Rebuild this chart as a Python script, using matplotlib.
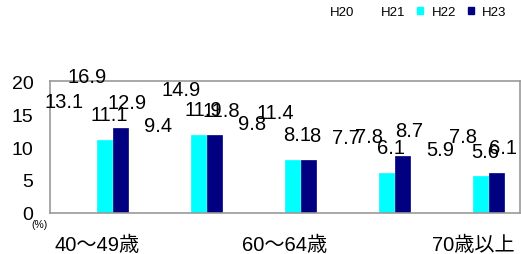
import matplotlib
matplotlib.use("Agg")
import matplotlib.pyplot as plt
import numpy as np
from matplotlib.patches import Patch

plt.rcParams['font.family'] = ['Liberation Sans', 'Noto Sans CJK JP', 'DejaVu Sans']

categories = ["40～49歳", "50～59歳", "60～64歳", "65～69歳", "70歳以上"]
series_names = ["H20", "H21", "H22", "H23"]
H20 = [13.1, 9.4, 9.8, 7.7, 5.9]
H21 = [16.9, 14.9, 11.4, 7.8, 7.8]
H22 = [11.1, 11.9, 8.1, 6.1, 5.6]
H23 = [12.9, 11.8, 8.0, 8.7, 6.1]
series = [H20, H21, H22, H23]
colors = ["white", "white", "#00FFFF", "#000080"]

fig = plt.figure(figsize=(5.21, 2.55), dpi=100)
ax = fig.add_axes([0.096, 0.161, 0.902, 0.517])

x = np.arange(len(categories))
w = 0.155
step = 0.165
label_dx = [-7, -1.5, 3, 5]
for i, (vals, c) in enumerate(zip(series, colors)):
    pos = x + (i - 1.5) * step
    ax.bar(pos, vals, width=w, color=c, edgecolor=c, linewidth=0.5, zorder=2)
    for px, v in zip(pos, vals):
        lbl = f"{v:g}"
        ax.annotate(lbl, (px, v), xytext=(label_dx[i], 18), textcoords='offset points',
                    ha='center', va='center', fontsize=14.5, color='black',
                    annotation_clip=False, zorder=3)

ax.set_xlim(-0.5, len(categories) - 0.5)
ax.set_ylim(0, 20)
ax.set_yticks([0, 5, 10, 15, 20])
ax.set_yticklabels(["0", "5", "10", "15", "20"], fontsize=14)
ax.set_xticks(x[::2])
ax.set_xticklabels(categories[::2], fontsize=14.5)
ax.tick_params(axis='y', length=0, pad=12)
ax.tick_params(axis='x', length=0, pad=16)
for s in ax.spines.values():
    s.set_color('#999999')
    s.set_linewidth(1.2)

fig.text(40/521, 1 - 225/255, "(%)", fontsize=7.5, ha='center', va='center')

handles = [Patch(facecolor=c, edgecolor=c) for c in colors]
leg = fig.legend(handles, series_names, loc='center right',
                 bbox_to_anchor=(0.995, 1 - 13/255), ncol=4, frameon=False,
                 fontsize=9.5, handlelength=0.5, handleheight=0.5,
                 handletextpad=0.6, columnspacing=0.9)

fig.savefig("out.png", dpi=100)
